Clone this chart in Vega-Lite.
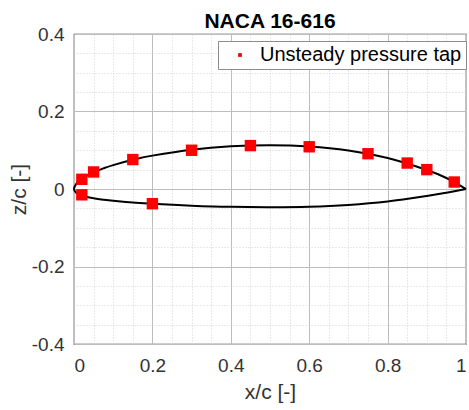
{
  "$schema": "https://vega.github.io/schema/vega-lite/v6.json",
  "width": 392,
  "height": 310,
  "autosize": {"type": "none"},
  "padding": {"left": 74, "top": 34, "right": 3, "bottom": 66},
  "background": "white",
  "title": {
    "text": "NACA 16-616",
    "fontSize": 21,
    "fontWeight": "bold",
    "color": "#000000",
    "anchor": "middle",
    "frame": "group",
    "baseline": "bottom",
    "offset": 0,
    "dy": 28
  },
  "datasets": {
    "airfoil": [
      {"i": 0, "x": 1.0, "z": 0.0},
      {"i": 1, "x": 0.95, "z": 0.0284},
      {"i": 2, "x": 0.9, "z": 0.0491},
      {"i": 3, "x": 0.8, "z": 0.0799},
      {"i": 4, "x": 0.7, "z": 0.0994},
      {"i": 5, "x": 0.6, "z": 0.1099},
      {"i": 6, "x": 0.5, "z": 0.1131},
      {"i": 7, "x": 0.4, "z": 0.1102},
      {"i": 8, "x": 0.3, "z": 0.1014},
      {"i": 9, "x": 0.2, "z": 0.0861},
      {"i": 10, "x": 0.15, "z": 0.0753},
      {"i": 11, "x": 0.1, "z": 0.0616},
      {"i": 12, "x": 0.075, "z": 0.0531},
      {"i": 13, "x": 0.05, "z": 0.0429},
      {"i": 14, "x": 0.025, "z": 0.0297},
      {"i": 15, "x": 0.0125, "z": 0.0204},
      {"i": 16, "x": 0.005, "z": 0.0123},
      {"i": 17, "x": 0.0, "z": 0.0},
      {"i": 18, "x": 0.005, "z": -0.0093},
      {"i": 19, "x": 0.0125, "z": -0.014},
      {"i": 20, "x": 0.025, "z": -0.0185},
      {"i": 21, "x": 0.05, "z": -0.0239},
      {"i": 22, "x": 0.075, "z": -0.0277},
      {"i": 23, "x": 0.1, "z": -0.0306},
      {"i": 24, "x": 0.15, "z": -0.0349},
      {"i": 25, "x": 0.2, "z": -0.0383},
      {"i": 26, "x": 0.3, "z": -0.043},
      {"i": 27, "x": 0.4, "z": -0.046},
      {"i": 28, "x": 0.5, "z": -0.0469},
      {"i": 29, "x": 0.6, "z": -0.0457},
      {"i": 30, "x": 0.7, "z": -0.041},
      {"i": 31, "x": 0.8, "z": -0.0321},
      {"i": 32, "x": 0.9, "z": -0.0181},
      {"i": 33, "x": 0.95, "z": -0.0094},
      {"i": 34, "x": 1.0, "z": 0.0}
    ],
    "taps": [
      {"kind": "Unsteady pressure tap", "x": 0.02, "z": 0.025},
      {"kind": "Unsteady pressure tap", "x": 0.05, "z": 0.044},
      {"kind": "Unsteady pressure tap", "x": 0.15, "z": 0.076},
      {"kind": "Unsteady pressure tap", "x": 0.3, "z": 0.1},
      {"kind": "Unsteady pressure tap", "x": 0.45, "z": 0.112},
      {"kind": "Unsteady pressure tap", "x": 0.6, "z": 0.109},
      {"kind": "Unsteady pressure tap", "x": 0.75, "z": 0.091},
      {"kind": "Unsteady pressure tap", "x": 0.85, "z": 0.067},
      {"kind": "Unsteady pressure tap", "x": 0.9, "z": 0.05},
      {"kind": "Unsteady pressure tap", "x": 0.97, "z": 0.018},
      {"kind": "Unsteady pressure tap", "x": 0.02, "z": -0.015},
      {"kind": "Unsteady pressure tap", "x": 0.2, "z": -0.038}
    ]
  },
  "layer": [
    {
      "data": {"name": "airfoil"},
      "mark": {"type": "line", "color": "#000000", "strokeWidth": 2, "interpolate": "cardinal"},
      "encoding": {
        "x": {
          "field": "x",
          "type": "quantitative",
          "scale": {"domain": [0, 1], "nice": false, "zero": false},
          "axis": {
            "orient": "bottom",
            "values": [0.05, 0.1, 0.15, 0.25, 0.3, 0.35, 0.45, 0.5, 0.55, 0.65, 0.7, 0.75, 0.85, 0.9, 0.95],
            "grid": true,
            "gridColor": "#d2d2d2",
            "gridDash": [1, 2],
            "labels": false,
            "ticks": false,
            "domain": false,
            "title": null
          }
        },
        "y": {
          "field": "z",
          "type": "quantitative",
          "scale": {"domain": [-0.4, 0.4], "nice": false, "zero": false},
          "axis": {
            "orient": "left",
            "values": [-0.35, -0.3, -0.25, -0.15, -0.1, -0.05, 0.05, 0.1, 0.15, 0.25, 0.3, 0.35],
            "grid": true,
            "gridColor": "#d2d2d2",
            "gridDash": [1, 2],
            "labels": false,
            "ticks": false,
            "domain": false,
            "title": null
          }
        },
        "order": {"field": "i", "type": "quantitative"}
      }
    },
    {
      "data": {"name": "taps"},
      "mark": {"type": "point", "shape": "square", "filled": true, "size": 130, "opacity": 1, "strokeWidth": 0},
      "encoding": {
        "x": {
          "field": "x",
          "type": "quantitative",
          "axis": {
            "orient": "bottom",
            "values": [0, 0.2, 0.4, 0.6, 0.8, 1],
            "grid": true,
            "gridColor": "#bdbdbd",
            "gridWidth": 1,
            "ticks": false,
            "domain": false,
            "labelExpr": "replace(format(datum.value, '~g'), '−', '-')",
            "labelFontSize": 19,
            "labelColor": "#333333",
            "labelPadding": 12,
            "labelFlush": true,
            "title": "x/c [-]",
            "titleFontSize": 21,
            "titleFontWeight": "normal",
            "titleColor": "#333333",
            "titlePadding": 6
          }
        },
        "y": {
          "field": "z",
          "type": "quantitative",
          "axis": {
            "orient": "left",
            "values": [-0.4, -0.2, 0, 0.2, 0.4],
            "grid": true,
            "gridColor": "#bdbdbd",
            "gridWidth": 1,
            "ticks": false,
            "domain": false,
            "labelExpr": "replace(format(datum.value, '~g'), '−', '-')",
            "labelFontSize": 19,
            "labelColor": "#333333",
            "labelPadding": 10,
            "labelFlush": false,
            "title": "z/c [-]",
            "titleFontSize": 21,
            "titleFontWeight": "normal",
            "titleColor": "#333333",
            "titlePadding": 2
          }
        },
        "color": {
          "field": "kind",
          "type": "nominal",
          "scale": {"range": ["#ff0000"]},
          "legend": {
            "orient": "none",
            "legendX": 144,
            "legendY": 7,
            "title": null,
            "symbolType": "square",
            "symbolSize": 14,
            "symbolStrokeWidth": 0,
            "symbolOffset": 8,
            "labelOffset": 10,
            "labelFontSize": 20,
            "labelLimit": 400,
            "labelColor": "#000000",
            "padding": 4,
            "strokeColor": "#8c8c8c",
            "fillColor": "#ffffff",
            "cornerRadius": 0
          }
        }
      }
    }
  ],
  "resolve": {"axis": {"x": "independent", "y": "independent"}},
  "config": {
    "font": "Liberation Sans",
    "view": {"stroke": "#3a3a3a", "strokeWidth": 1.2}
  }
}
